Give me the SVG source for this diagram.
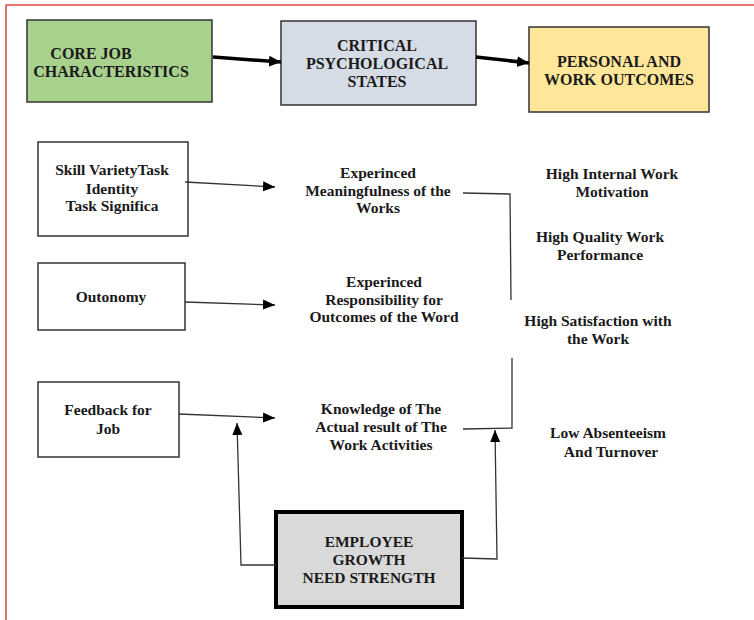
<svg xmlns="http://www.w3.org/2000/svg" width="754" height="620" viewBox="0 0 754 620">
  <style>
    text { font-family: "Liberation Serif", "Tinos", "Times New Roman", "DejaVu Serif", serif; font-weight: bold; fill: #1a1a1a; text-anchor: middle; }
    .head { font-size: 16px; }
    .lbl { font-size: 15.5px; }
    .box { stroke: #333; stroke-width: 1.5; }
    .thin { fill: none; stroke: #333; stroke-width: 1.3; }
    .thick { fill: none; stroke: #000; stroke-width: 3.5; }
  </style>
  <defs>
    <marker id="tri" markerUnits="userSpaceOnUse" markerWidth="12" markerHeight="12" viewBox="0 0 12 12" refX="12" refY="6" orient="auto">
      <path d="M0,1 L12,6 L0,11 Z" fill="#000"/>
    </marker>
    <marker id="triBig" markerUnits="userSpaceOnUse" markerWidth="12" markerHeight="12" viewBox="0 0 12 12" refX="12" refY="6" orient="auto">
      <path d="M0,0.5 L12,6 L0,11.5 Z" fill="#000"/>
    </marker>
  </defs>

  <rect width="754" height="620" fill="#fff"/>
  <!-- page frame -->
  <path d="M6,620 V5 H754" fill="none" stroke="#e04a4a" stroke-width="1.6"/>

  <!-- header row -->
  <g id="core-job">
    <rect class="box" x="27" y="20" width="185" height="82" fill="#a9d18e"/>
    <text class="head" x="91" y="59">CORE JOB</text>
    <text class="head" x="111" y="77">CHARACTERISTICS</text>
  </g>
  <g id="critical-states">
    <rect class="box" x="281" y="21" width="195" height="84" fill="#d6dce5"/>
    <text class="head" x="377" y="51">CRITICAL</text>
    <text class="head" x="377" y="69">PSYCHOLOGICAL</text>
    <text class="head" x="377" y="87">STATES</text>
  </g>
  <g id="outcomes">
    <rect class="box" x="529" y="27" width="180" height="85" fill="#ffe699"/>
    <text class="head" x="619" y="67">PERSONAL AND</text>
    <text class="head" x="619" y="85">WORK OUTCOMES</text>
  </g>

  <!-- job dimensions -->
  <g id="skill">
    <rect class="box" x="38" y="142" width="150" height="94" fill="#fff"/>
    <text class="lbl" x="112" y="175">Skill VarietyTask</text>
    <text class="lbl" x="112" y="194">Identity</text>
    <text class="lbl" x="112" y="211">Task Significa</text>
  </g>
  <g id="autonomy">
    <rect class="box" x="38" y="263" width="147" height="67" fill="#fff"/>
    <text class="lbl" x="111" y="302">Outonomy</text>
  </g>
  <g id="feedback">
    <rect class="box" x="38" y="382" width="141" height="75" fill="#fff"/>
    <text class="lbl" x="108" y="415">Feedback for</text>
    <text class="lbl" x="108" y="434">Job</text>
  </g>

  <!-- psychological states -->
  <g id="meaningfulness">
    <text class="lbl" x="378" y="178">Experinced</text>
    <text class="lbl" x="378" y="196">Meaningfulness of the</text>
    <text class="lbl" x="378" y="213">Works</text>
  </g>
  <g id="responsibility">
    <text class="lbl" x="384" y="287">Experinced</text>
    <text class="lbl" x="384" y="305">Responsibility for</text>
    <text class="lbl" x="384" y="322">Outcomes of the Word</text>
  </g>
  <g id="knowledge">
    <text class="lbl" x="381" y="414">Knowledge of The</text>
    <text class="lbl" x="381" y="432">Actual result of The</text>
    <text class="lbl" x="381" y="450">Work Activities</text>
  </g>

  <!-- outcomes -->
  <g id="motivation">
    <text class="lbl" x="612" y="179">High Internal Work</text>
    <text class="lbl" x="612" y="197">Motivation</text>
  </g>
  <g id="quality">
    <text class="lbl" x="600" y="242">High Quality Work</text>
    <text class="lbl" x="600" y="260">Performance</text>
  </g>
  <g id="satisfaction">
    <text class="lbl" x="598" y="326">High Satisfaction with</text>
    <text class="lbl" x="598" y="344">the Work</text>
  </g>
  <g id="absenteeism">
    <text class="lbl" x="608" y="438">Low Absenteeism</text>
    <text class="lbl" x="611" y="457">And Turnover</text>
  </g>

  <!-- moderator -->
  <g id="growth-need">
    <rect x="276" y="512" width="186" height="95" fill="#d9d9d9" stroke="#000" stroke-width="4"/>
    <text class="lbl" x="369" y="547">EMPLOYEE</text>
    <text class="lbl" x="369" y="565">GROWTH</text>
    <text class="lbl" x="369" y="583">NEED STRENGTH</text>
  </g>

  <g id="connectors">
    <path class="thick" d="M213,57 L281,62" marker-end="url(#triBig)"/>
    <path class="thick" d="M476,57 L529,63" marker-end="url(#triBig)"/>
    <path class="thin" d="M185,182 L275,187" marker-end="url(#tri)"/>
    <path class="thin" d="M185,302 L275,305" marker-end="url(#tri)"/>
    <path class="thin" d="M179,414 L275,418" marker-end="url(#tri)"/>
    <path class="thin" d="M463,193 L510,194 L511,300"/>
    <path class="thin" d="M512,358 L512,428 L463,429"/>
    <path class="thin" d="M276,565 L241,565 L237,423" marker-end="url(#tri)"/>
    <path class="thin" d="M462,558 L497,559 L495,430" marker-end="url(#tri)"/>
  </g>
</svg>
